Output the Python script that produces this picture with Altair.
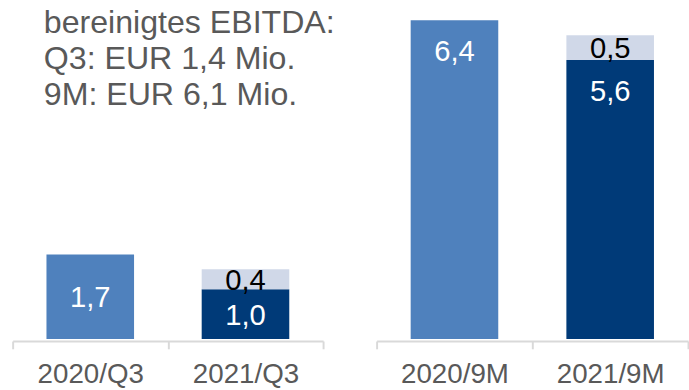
import altair as alt
import pandas as pd

# ---- data ----
periods_q3 = ["2020/Q3", "2021/Q3"]
periods_9m = ["2020/9M", "2021/9M"]
base_q3 = [1.7, 1.0]      # reported EBITDA
adj_q3 = [0.0, 0.4]       # adjustment on top
base_9m = [6.4, 5.6]
adj_9m = [0.0, 0.5]
note_lines = ["bereinigtes EBITDA:", "Q3: EUR 1,4 Mio.", "9M: EUR 6,1 Mio."]

COL_PREV = "#4F81BD"
COL_BASE = "#003A78"
COL_ADJ = "#D0D8E8"
GRAY_TXT = "#595959"
AXIS_GRAY = "#D9D9D9"
FONT = "Liberation Sans"
Y_MAX = 6.7
PLOT_H = 343


def fmt(v):
    return f"{v:.1f}".replace(".", ",")


def panel(periods, base, adj, top_labels, width, with_note=False):
    rows = []
    for i, (p, b, a) in enumerate(zip(periods, base, adj)):
        seg = "prev" if i == 0 else "base"
        rows.append(dict(period=p, seg=seg, start=0.0, end=b, mid=b / 2,
                         label=fmt(b), pos="top" if top_labels else "mid"))
        if a > 0:
            rows.append(dict(period=p, seg="adj", start=b, end=b + a, mid=b + a / 2,
                             label=fmt(a), pos="mid"))
    df = pd.DataFrame(rows)

    x = alt.X(
        "period:N", sort=periods, title=None,
        scale=alt.Scale(paddingInner=0, paddingOuter=0),
        axis=alt.Axis(labelAngle=0, tickBand="extent", domainColor=AXIS_GRAY,
                      tickColor=AXIS_GRAY, domainWidth=2, tickWidth=2, tickSize=8,
                      labelFontSize=28.5, labelColor=GRAY_TXT, labelPadding=12,
                      labelFont=FONT, offset=2, grid=False),
    )
    yscale = alt.Scale(domain=[0, Y_MAX], nice=False, zero=True)

    base_chart = alt.Chart(df)
    bars = base_chart.mark_bar(width=90).encode(
        x=x,
        y=alt.Y("start:Q", scale=yscale, axis=None),
        y2="end:Q",
        color=alt.Color("seg:N", scale=alt.Scale(domain=["prev", "base", "adj"],
                                                  range=[COL_PREV, COL_BASE, COL_ADJ]),
                        legend=None),
    )
    txt_color = alt.condition("datum.seg == 'adj'", alt.value("black"), alt.value("white"))
    mid_txt = base_chart.transform_filter("datum.pos == 'mid'").mark_text(
        fontSize=30, font=FONT, baseline="middle", dy=2
    ).encode(
        x=alt.X("period:N", sort=periods),
        y=alt.Y("mid:Q", scale=yscale),
        text="label:N",
        color=txt_color,
    )
    top_txt = base_chart.transform_filter("datum.pos == 'top'").mark_text(
        fontSize=30, font=FONT, baseline="top", dy=18
    ).encode(
        x=alt.X("period:N", sort=periods),
        y=alt.Y("end:Q", scale=yscale),
        text="label:N",
        color=txt_color,
    )
    layers = [bars, mid_txt, top_txt]
    if with_note:
        note = alt.Chart(pd.DataFrame({"k": [0]})).mark_text(
            align="left", baseline="alphabetic", fontSize=33, lineHeight=37,
            font=FONT, color=GRAY_TXT
        ).encode(x=alt.value(32), y=alt.value(28), text=alt.value(note_lines))
        layers.append(note)
    return alt.layer(*layers).properties(width=width, height=PLOT_H)


left = panel(periods_q3, base_q3, adj_q3, top_labels=False, width=319, with_note=True)
right = panel(periods_9m, base_9m, adj_9m, top_labels=True, width=320)

chart = (
    alt.hconcat(left, right, spacing=42)
    .properties(padding={"left": 12, "top": 0, "right": 0, "bottom": 0})
    .configure(font=FONT)
    .configure_view(strokeWidth=0, stroke="transparent")
)

chart.save("out.html", embed_options={"renderer": "svg", "actions": False})
